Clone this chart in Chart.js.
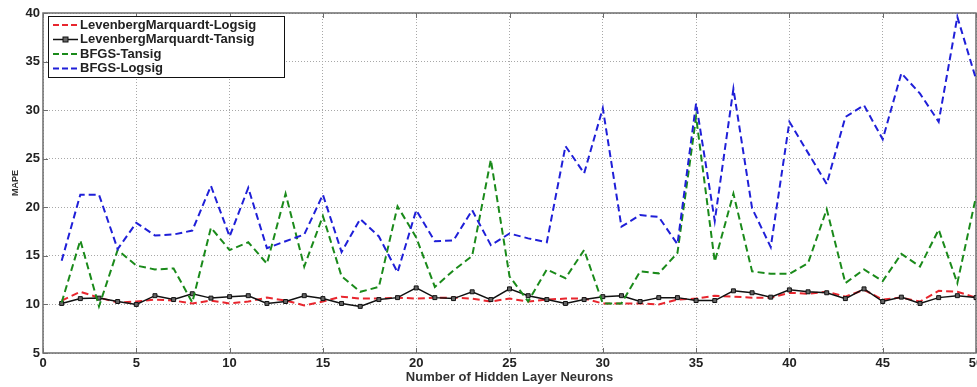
<!DOCTYPE html>
<html>
<head>
<meta charset="utf-8">
<script src="https://cdn.jsdelivr.net/npm/chart.js@4/dist/chart.umd.min.js"></script>
<style>
html,body{margin:0;padding:0;background:#fff;overflow:hidden;width:977px;height:387px;}
#wrap{position:absolute;left:0;top:0;width:1000px;height:387px;}
</style>
</head>
<body>
<div id="wrap"><canvas id="c" width="1000" height="387"></canvas></div>
<script>
// ---- data ----
const neurons = Array.from({length: 50}, (_, i) => i + 1);
const xTicks = [0, 5, 10, 15, 20, 25, 30, 35, 40, 45, 50];
const yTicks = [5, 10, 15, 20, 25, 30, 35, 40];
const seriesNames = ['LevenbergMarquardt-Logsig', 'LevenbergMarquardt-Tansig', 'BFGS-Tansig', 'BFGS-Logsig'];
const lmLogsig = [10.4, 11.3, 10.7, 10.2, 10.3, 10.5, 10.4, 10.1, 10.4, 10.1, 10.3, 10.7, 10.4, 9.9, 10.3, 10.8, 10.6, 10.6, 10.7, 10.6, 10.7, 10.7, 10.6, 10.3, 10.6, 10.3, 10.5, 10.6, 10.6, 10.1, 10.1, 10.1, 10.0, 10.5, 10.6, 10.9, 10.8, 10.7, 10.7, 11.2, 11.1, 11.3, 10.8, 11.5, 10.5, 10.7, 10.3, 11.4, 11.3, 10.7];
const lmTansig = [10.1, 10.6, 10.65, 10.3, 10.0, 10.9, 10.5, 11.1, 10.65, 10.8, 10.9, 10.1, 10.3, 10.9, 10.6, 10.1, 9.8, 10.5, 10.7, 11.7, 10.7, 10.6, 11.3, 10.5, 11.6, 10.9, 10.5, 10.1, 10.5, 10.8, 10.9, 10.3, 10.7, 10.7, 10.4, 10.4, 11.4, 11.2, 10.75, 11.5, 11.3, 11.2, 10.6, 11.6, 10.3, 10.75, 10.1, 10.7, 10.9, 10.7];
const bfgsTansig = [10.2, 16.6, 9.8, 15.6, 14.0, 13.6, 13.7, 10.2, 17.9, 15.6, 16.4, 14.2, 21.4, 13.9, 19.1, 12.9, 11.3, 11.8, 20.1, 16.9, 11.8, 13.5, 15.0, 24.9, 12.9, 10.3, 13.6, 12.7, 15.6, 10.1, 10.1, 13.4, 13.2, 15.3, 29.3, 14.4, 21.4, 13.4, 13.15, 13.15, 14.25, 19.8, 12.2, 13.6, 12.4, 15.2, 13.9, 17.7, 12.2, 21.1];
const bfgsLogsig = [14.5, 21.3, 21.3, 15.7, 18.4, 17.1, 17.2, 17.6, 22.2, 17.0, 22.0, 15.8, 16.5, 17.2, 21.3, 15.4, 18.8, 17.0, 13.3, 19.7, 16.5, 16.6, 19.7, 16.1, 17.3, 16.8, 16.4, 26.3, 23.5, 30.2, 18.0, 19.2, 19.0, 16.2, 30.7, 18.6, 32.2, 19.9, 15.9, 28.8, 25.6, 22.4, 29.3, 30.5, 27.0, 33.8, 31.7, 28.8, 39.6, 33.2];

const pts = arr => arr.map((v, i) => ({x: neurons[i], y: v}));
const FONT = '"Liberation Sans", Arial, Helvetica, sans-serif';

const styles = [
  {color: '#e8262e', dash: [7, 4], width: 2, marker: false},
  {color: '#111111', dash: [], width: 1.5, marker: true},
  {color: '#1a8a1a', dash: [7, 4], width: 2, marker: false},
  {color: '#1f1fd8', dash: [7, 4], width: 2, marker: false}
];
const values = [lmLogsig, lmTansig, bfgsTansig, bfgsLogsig];
const orders = [3, 2, 1, 0];

const datasets = values.map((arr, k) => ({
  label: seriesNames[k],
  data: pts(arr),
  borderColor: styles[k].color,
  backgroundColor: styles[k].marker ? '#666' : styles[k].color,
  borderWidth: styles[k].width,
  borderDash: styles[k].dash,
  pointRadius: styles[k].marker ? 2.8 : 0,
  pointStyle: 'rect',
  pointBorderColor: '#111',
  pointBorderWidth: 1,
  tension: 0,
  order: orders[k]
}));

const framePlugin = {
  id: 'frame',
  beforeDatasetsDraw(chart) {
    const {ctx, chartArea: a, scales} = chart;
    ctx.save();
    ctx.strokeStyle = '#6e6e6e';
    ctx.lineWidth = 1.5;
    ctx.strokeRect(a.left, a.top, a.right - a.left, a.bottom - a.top);
    ctx.lineWidth = 1;
    ctx.beginPath();
    xTicks.forEach(t => {
      const px = Math.round(scales.x.getPixelForValue(t)) + 0.5;
      ctx.moveTo(px, a.bottom); ctx.lineTo(px, a.bottom - 5);
      ctx.moveTo(px, a.top); ctx.lineTo(px, a.top + 5);
    });
    yTicks.forEach(t => {
      const py = Math.round(scales.y.getPixelForValue(t)) + 0.5;
      ctx.moveTo(a.left, py); ctx.lineTo(a.left + 5, py);
    });
    ctx.stroke();
    ctx.restore();
  },
  afterDraw(chart) {
    const {ctx, chartArea: a} = chart;
    const bx = a.left + 5, by = a.top + 3, bw = 236, bh = 61;
    ctx.save();
    ctx.fillStyle = '#fff';
    ctx.fillRect(bx, by, bw, bh);
    ctx.strokeStyle = '#111';
    ctx.lineWidth = 1;
    ctx.strokeRect(bx + 0.5, by + 0.5, bw, bh);
    ctx.font = 'bold 13px ' + FONT;
    ctx.textBaseline = 'middle';
    seriesNames.forEach((name, k) => {
      const y = by + 9 + k * 14.5;
      const s = styles[k];
      ctx.strokeStyle = s.color;
      ctx.lineWidth = s.width;
      ctx.setLineDash(s.dash.length ? [6, 3] : []);
      ctx.beginPath();
      ctx.moveTo(bx + 5, y); ctx.lineTo(bx + 30, y);
      ctx.stroke();
      ctx.setLineDash([]);
      if (s.marker) {
        ctx.fillStyle = '#666';
        ctx.fillRect(bx + 15, y - 2.5, 5, 5);
        ctx.strokeStyle = '#111';
        ctx.lineWidth = 1;
        ctx.strokeRect(bx + 15, y - 2.5, 5, 5);
      }
      ctx.fillStyle = '#222';
      ctx.fillText(name, bx + 32, y);
    });
    ctx.restore();
  }
};

new Chart(document.getElementById('c'), {
  type: 'line',
  data: {datasets},
  options: {
    responsive: false,
    animation: false,
    devicePixelRatio: 1,
    layout: {padding: {top: 13, right: 24, bottom: 0, left: 0}},
    plugins: {legend: {display: false}, tooltip: {enabled: false}},
    scales: {
      x: {
        type: 'linear', min: 0, max: 50,
        afterFit: s => { s.height = 34; },
        afterBuildTicks: s => { s.ticks = xTicks.map(v => ({value: v})); },
        border: {display: false, dash: [1, 2]},
        grid: {color: '#a8a8a8', lineWidth: 1, drawTicks: false, tickLength: 0},
        ticks: {color: '#222', font: {family: FONT, size: 13, weight: 'bold'}, padding: 3, maxRotation: 0, autoSkip: false},
        title: {display: true, text: 'Number of Hidden Layer Neurons', color: '#333', font: {family: FONT, size: 13, weight: 'bold'}, padding: {top: 0, bottom: 2}}
      },
      y: {
        type: 'linear', min: 5, max: 40,
        afterFit: s => { s.width = 43; },
        afterBuildTicks: s => { s.ticks = yTicks.map(v => ({value: v})); },
        border: {display: false, dash: [1, 2]},
        grid: {color: '#a8a8a8', lineWidth: 1, drawTicks: false, tickLength: 0},
        ticks: {color: '#222', font: {family: FONT, size: 13, weight: 'bold'}, padding: 3},
        title: {display: true, text: 'MAPE', color: '#333', font: {family: FONT, size: 9, weight: 'bold'}, padding: {top: 10, bottom: 0}}
      }
    }
  },
  plugins: [framePlugin]
});
</script>
</body>
</html>
